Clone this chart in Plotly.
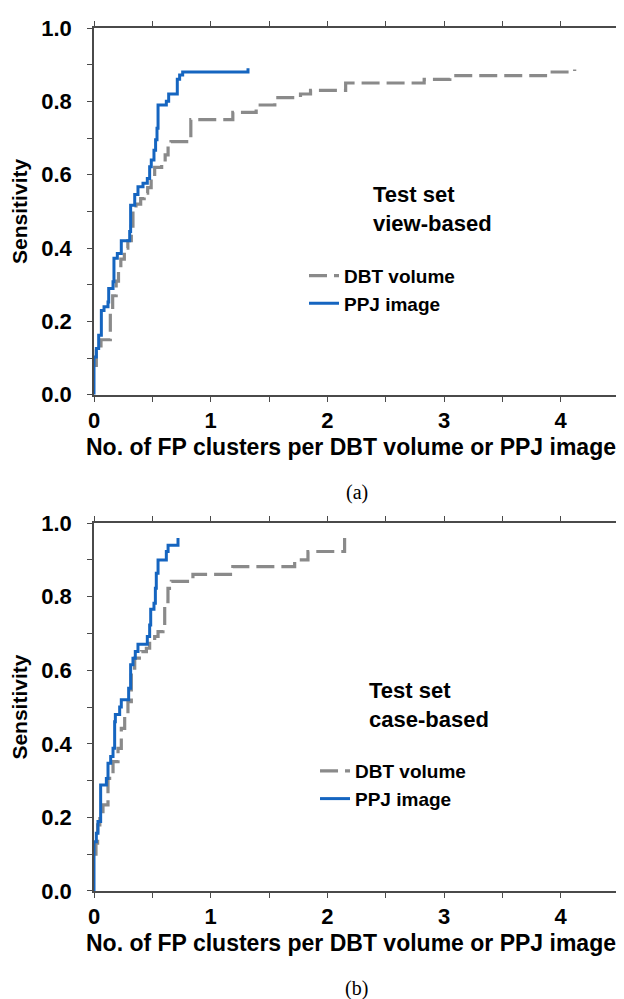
import plotly.graph_objects as go

# ---------------- Data ----------------
# Panel (a): Test set, view-based
a_ppj_x = [0, 0, 0.02, 0.04, 0.063, 0.086, 0.12, 0.126, 0.163, 0.171, 0.2, 0.234, 0.306, 0.314,
           0.349, 0.377, 0.42, 0.457, 0.477, 0.491, 0.514, 0.528, 0.54, 0.549, 0.62, 0.64, 0.714,
           0.734, 0.76, 1.32]
a_ppj_y = [0, 0.103, 0.126, 0.162, 0.23, 0.24, 0.253, 0.29, 0.308, 0.372, 0.385, 0.42, 0.445, 0.517,
           0.546, 0.567, 0.577, 0.59, 0.622, 0.64, 0.667, 0.695, 0.727, 0.79, 0.80, 0.82, 0.86,
           0.872, 0.88, 0.89]
a_dbt_x = [0, 0.02, 0.06, 0.14, 0.16, 0.19, 0.21, 0.23, 0.26, 0.29, 0.32, 0.334, 0.36, 0.40, 0.43,
           0.46, 0.49, 0.52, 0.58, 0.61, 0.635, 0.66, 0.83, 1.19, 1.39, 1.55, 1.77, 1.856, 2.157,
           2.83, 3.05, 3.87, 4.12]
a_dbt_y = [0.08, 0.12, 0.15, 0.23, 0.27, 0.31, 0.34, 0.37, 0.40, 0.42, 0.46, 0.51, 0.52, 0.535, 0.55,
           0.565, 0.59, 0.62, 0.627, 0.654, 0.677, 0.69, 0.75, 0.77, 0.79, 0.81, 0.82, 0.83, 0.85,
           0.86, 0.87, 0.88, 0.887]

# Panel (b): Test set, case-based
b_ppj_x = [0, 0, 0.02, 0.034, 0.057, 0.106, 0.12, 0.143, 0.163, 0.177, 0.183, 0.22, 0.234, 0.297,
           0.314, 0.334, 0.354, 0.377, 0.457, 0.477, 0.486, 0.514, 0.526, 0.534, 0.549, 0.62,
           0.635, 0.72]
b_ppj_y = [0, 0.134, 0.157, 0.189, 0.288, 0.306, 0.347, 0.366, 0.388, 0.46, 0.48, 0.50, 0.52, 0.551,
           0.615, 0.633, 0.651, 0.671, 0.692, 0.723, 0.766, 0.782, 0.823, 0.864, 0.90, 0.923,
           0.94, 0.96]
b_dbt_x = [0, 0.017, 0.031, 0.05, 0.077, 0.12, 0.163, 0.206, 0.234, 0.263, 0.291, 0.32, 0.349,
           0.406, 0.449, 0.477, 0.52, 0.549, 0.591, 0.606, 0.634, 0.663, 0.848, 1.19, 1.72,
           1.834, 2.148]
b_dbt_y = [0.10, 0.13, 0.18, 0.207, 0.234, 0.306, 0.352, 0.388, 0.442, 0.479, 0.515, 0.606, 0.633,
           0.651, 0.66, 0.678, 0.692, 0.705, 0.714, 0.787, 0.823, 0.842, 0.861, 0.882, 0.90,
           0.923, 0.96]

series_names = ["DBT volume", "PPJ image"]
panel_notes = ["Test set<br>view-based", "Test set<br>case-based"]
panel_labels = ["(a)", "(b)"]
x_title = "No. of FP clusters per DBT volume or PPJ image"
y_title = "Sensitivity"

x_tickvals = [0, 0.5, 1, 1.5, 2, 2.5, 3, 3.5, 4, 4.5]
x_ticktext = ["0", "", "1", "", "2", "", "3", "", "4", ""]
y_tickvals = [0, 0.1, 0.2, 0.3, 0.4, 0.5, 0.6, 0.7, 0.8, 0.9, 1.0]
y_ticktext = ["0.0", "", "0.2", "", "0.4", "", "0.6", "", "0.8", "", "1.0"]

# ---------------- Styles ----------------
GRAY = "#8a8a8a"
BLUE = "#1565c0"
AXIS = "#4a4a4a"
SANS = "Liberation Sans, Arial, sans-serif"
SERIF = "Liberation Serif, Times New Roman, serif"

fig = go.Figure()

panels = [
    (a_dbt_x, a_dbt_y, a_ppj_x, a_ppj_y, "x", "y", "legend"),
    (b_dbt_x, b_dbt_y, b_ppj_x, b_ppj_y, "x2", "y2", "legend2"),
]
for dx, dy, px, py, xa, ya, lg in panels:
    fig.add_trace(go.Scatter(
        x=dx, y=dy, mode="lines", name=series_names[0], xaxis=xa, yaxis=ya, legend=lg,
        line=dict(color=GRAY, width=3.2, dash="18px,7px", shape="hv")))
    fig.add_trace(go.Scatter(
        x=px, y=py, mode="lines", name=series_names[1], xaxis=xa, yaxis=ya, legend=lg,
        line=dict(color=BLUE, width=3.0, shape="hv")))

def xaxis_style(anchor):
    return dict(
        range=[0, 4.5], anchor=anchor, tickmode="array", tickvals=x_tickvals, ticktext=x_ticktext,
        ticks="outside", ticklen=5, tickwidth=1.3, tickcolor=AXIS, showline=True, linecolor=AXIS,
        linewidth=1.5, mirror="allticks", showgrid=False, zeroline=False,
        tickfont=dict(family=SANS, size=22, color="black", weight="bold"),
        automargin=False,
    )

def yaxis_style(anchor, domain):
    return dict(
        range=[0, 1.0], anchor=anchor, domain=domain, tickmode="array", tickvals=y_tickvals,
        ticktext=y_ticktext, ticks="outside", ticklen=5, tickwidth=1.3, tickcolor=AXIS,
        showline=True, linecolor=AXIS, linewidth=1.5, mirror="allticks", showgrid=False,
        zeroline=False, ticklabelstandoff=11,
        tickfont=dict(family=SANS, size=22, color="black", weight="bold"),
        title=dict(text=y_title, font=dict(family=SANS, size=21, color="black", weight="bold"),
                   standoff=12),
        automargin=False,
    )

legend_common = dict(
    font=dict(family=SANS, size=19, color="black", weight="bold"),
    bgcolor="rgba(0,0,0,0)", borderwidth=0, xanchor="left", yanchor="top",
    tracegroupgap=0, itemwidth=30,
)

fig.update_layout(
    width=624, height=999,
    margin=dict(l=86, r=13, t=20, b=116),
    paper_bgcolor="white", plot_bgcolor="white",
    xaxis=xaxis_style("y"),
    yaxis=yaxis_style("x", [0.575, 1.0]),
    xaxis2=xaxis_style("y2"),
    yaxis2=yaxis_style("x2", [0.0, 0.4262]),
    legend=dict(x=0.40, y=0.735, **legend_common),
    legend2=dict(x=0.421, y=0.161, **legend_common),
    showlegend=True,
)

# X-axis titles (placed as text under each panel)
for ty in [(882.7 - 439) / 862.7, (882.7 - 935) / 862.7]:
    fig.add_annotation(text=x_title, xref="paper", yref="paper", x=(343 - 86) / 525, y=ty,
                       xanchor="center", yanchor="middle", showarrow=False,
                       font=dict(family=SANS, size=23, color="black", weight="bold"))

# Panel notes and sub-figure labels
fig.add_annotation(text=panel_notes[0], xref="paper", yref="paper", x=0.5276, y=0.824,
                   xanchor="left", yanchor="top", align="left", showarrow=False,
                   font=dict(family=SANS, size=22, color="black", weight="bold"))
fig.add_annotation(text=panel_notes[1], xref="paper", yref="paper", x=0.520, y=0.249,
                   xanchor="left", yanchor="top", align="left", showarrow=False,
                   font=dict(family=SANS, size=22, color="black", weight="bold"))
fig.add_annotation(text=panel_labels[0], xref="paper", yref="paper", x=0.5, y=(882.7 - 484.5) / 862.7,
                   xanchor="center", yanchor="middle", showarrow=False,
                   font=dict(family=SERIF, size=20, color="black"))
fig.add_annotation(text=panel_labels[1], xref="paper", yref="paper", x=0.5, y=(882.7 - 980) / 862.7,
                   xanchor="center", yanchor="middle", showarrow=False,
                   font=dict(family=SERIF, size=20, color="black"))

fig.write_html("out.html")
